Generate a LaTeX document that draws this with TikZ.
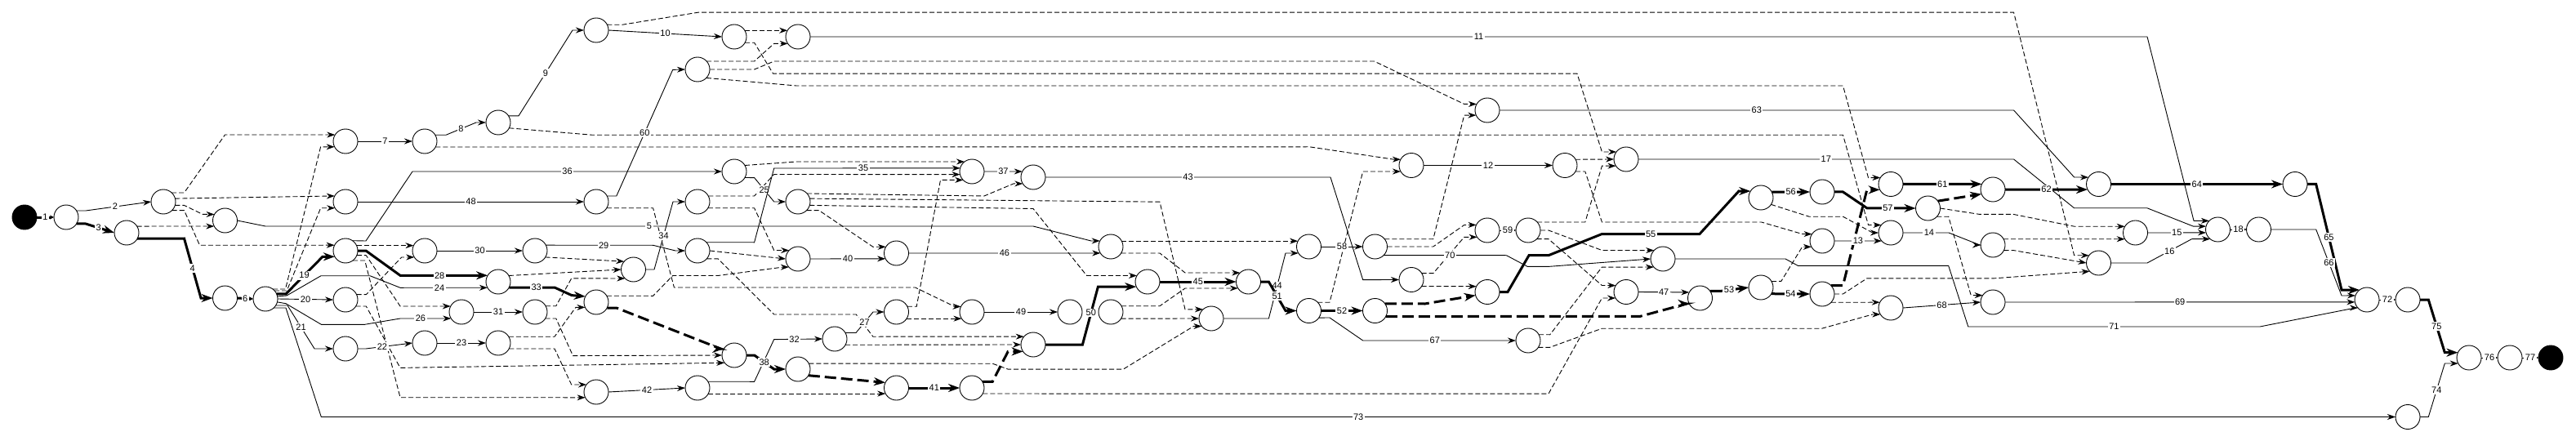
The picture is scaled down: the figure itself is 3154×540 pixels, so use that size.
\documentclass[tikz,border=0pt]{standalone}
\usepackage{fontspec}
\setmainfont{Liberation Sans}
\usetikzlibrary{arrows.meta}
\tikzset{
  ev/.style={circle,draw,fill=white,minimum size=30pt,inner sep=0pt,outer sep=0pt,line width=0.9pt},
  evs/.style={ev,fill=black},
  act/.style={draw,line width=0.9pt,-{Stealth[length=10pt,width=7pt]}},
  crit/.style={draw,line width=3pt,-{Stealth[length=14pt,width=10pt]}},
  dum/.style={act,dash pattern=on 6pt off 3pt},
  cdum/.style={crit,dash pattern=on 14pt off 6pt},
  shortarr/.style={-{Stealth[length=5pt,width=5pt]}},
  lbl/.style={fill=white,inner sep=1.5pt,font=\fontsize{11}{12}\selectfont}
}
\begin{document}
\begin{tikzpicture}[x=1pt,y=-1pt]
\useasboundingbox (0,0) rectangle (3154,540);
% events
\node[evs] (S) at (30,266) {};
\node[ev] (N1) at (81,266) {};
\node[ev] (N2) at (200,247) {};
\node[ev] (N3) at (155,285) {};
\node[ev] (N5) at (275.5,270) {};
\node[ev] (N4) at (275.5,365) {};
\node[ev] (N6) at (325,366) {};
\node[ev] (A) at (423,173) {};
\node[ev] (A7) at (520,173) {};
\node[ev] (B) at (423,247) {};
\node[ev] (C) at (423,307) {};
\node[ev] (D) at (520,307) {};
\node[ev] (E) at (423,367) {};
\node[ev] (F) at (423,427) {};
\node[ev] (G) at (520,420) {};
\node[ev] (H) at (610,150) {};
\node[ev] (I) at (730,37) {};
\node[ev] (J) at (899,45) {};
\node[ev] (K) at (977,45) {};
\node[ev] (L) at (854,85) {};
\node[ev] (M) at (730,247) {};
\node[ev] (N) at (899,210) {};
\node[ev] (O) at (854,247) {};
\node[ev] (P) at (977,247) {};
\node[ev] (Q) at (655,307) {};
\node[ev] (R) at (775.5,330) {};
\node[ev] (T) at (854,307) {};
\node[ev] (U) at (977,317) {};
\node[ev] (V) at (610,345) {};
\node[ev] (W) at (730,370) {};
\node[ev] (X) at (565,382) {};
\node[ev] (Y) at (655,382) {};
\node[ev] (Z) at (610,420) {};
\node[ev] (AA) at (899,435) {};
\node[ev] (AB) at (730,480) {};
\node[ev] (AC) at (854,475) {};
\node[ev] (AD) at (1022,415) {};
\node[ev] (AE) at (977,452) {};
\node[ev] (AF) at (1190,210) {};
\node[ev] (AG) at (1265,217) {};
\node[ev] (AH) at (1097.5,310) {};
\node[ev] (AI) at (1097.5,382) {};
\node[ev] (AJ) at (1190,382) {};
\node[ev] (AK) at (1310,382) {};
\node[ev] (AL) at (1360,382) {};
\node[ev] (AM) at (1097.5,475) {};
\node[ev] (AN) at (1190,475) {};
\node[ev] (AO) at (1265,422) {};
\node[ev] (AP) at (1405,345) {};
\node[ev] (AQ) at (1360,302) {};
\node[ev] (AR) at (1528.5,345) {};
\node[ev] (AS) at (1483,390) {};
\node[ev] (AT) at (1602.5,380.5) {};
\node[ev] (AU) at (1602.5,302) {};
\node[ev] (AV) at (1683.5,302) {};
\node[ev] (AW) at (1728,202.5) {};
\node[ev] (AX) at (1916,202.5) {};
\node[ev] (AY) at (1991,195) {};
\node[ev] (AZ) at (1821,135) {};
\node[ev] (BA) at (1871,282) {};
\node[ev] (BB) at (1821,282) {};
\node[ev] (BC) at (1728,342.5) {};
\node[ev] (BD) at (1683.5,380.5) {};
\node[ev] (BE) at (1821,357.5) {};
\node[ev] (BF) at (1871,417) {};
\node[ev] (BG) at (1991,357.5) {};
\node[ev] (BH) at (2036,317) {};
\node[ev] (BI) at (2081.5,365) {};
\node[ev] (BJ) at (2156,352) {};
\node[ev] (BK) at (2156,242) {};
\node[ev] (BL) at (2231,235) {};
\node[ev] (BM) at (2231,295) {};
\node[ev] (BN) at (2231,360) {};
\node[ev] (BO) at (2315,225.5) {};
\node[ev] (BP) at (2315,285) {};
\node[ev] (BQ) at (2360.5,255) {};
\node[ev] (BR) at (2315,377) {};
\node[ev] (BS) at (2440,232) {};
\node[ev] (BT) at (2440,300) {};
\node[ev] (BU) at (2440,370) {};
\node[ev] (BV) at (2569.5,225.5) {};
\node[ev] (BW) at (2810,225.5) {};
\node[ev] (BX) at (2614.5,285) {};
\node[ev] (BY) at (2715.5,281) {};
\node[ev] (BZ) at (2765.5,281) {};
\node[ev] (CA) at (2569.5,322) {};
\node[ev] (CB) at (2898,367) {};
\node[ev] (CC) at (2948,367) {};
\node[ev] (CD) at (2948,510.5) {};
\node[ev] (CE) at (3023,438) {};
\node[ev] (CF) at (3073,438) {};
\node[evs] (ED) at (3123,438) {};
% dummy activities
\draw[dum] (N2.47) -- (225.5,236) -- (275.5,165) -- (A.148);
\draw[dum] (N2.15) -- (B.152);
\draw[dum] (N2.-17) -- (225.5,251.4) -- (248,262.4) -- (N5.150);
\draw[dum] (N2.-45) -- (225.5,257.6) -- (244.5,300.3) -- (C.153);
\draw[dum] (N3.32) -- (N5.208);
\draw[dum] (N6.53) -- (349.5,354) -- (392.6,179.8) -- (A.207);
\draw[dum] (N6.42) -- (351.2,356) -- (392.6,254.8) -- (B.211);
\draw[dum] (A7.-28) -- (1603.3,179.8) -- (1706.6,195.2) -- (AW.151);
\draw[dum] (H.-27) -- (725.6,165.3) -- (2256.5,165.3) -- (2287.5,275.5) -- (BP.141);
\draw[dum] (I.27) -- (761.7,30.3) -- (854.7,15.2) -- (2465.6,15.2) -- (2539.6,312.7) -- (CA.142);
\draw[dum] (J.31) -- (K.149);
\draw[dum] (J.-29) -- (923.6,52.3) -- (946.6,90.2) -- (1931,90.2) -- (1961.4,186) -- (AY.143);
\draw[dum] (L.42) -- (923.6,75) -- (947.7,53.4) -- (K.214);
\draw[dum] (L.east) -- (923.6,85) -- (947.7,75) -- (1682.5,75) -- (1792.7,127.4) -- (AZ.150);
\draw[dum] (L.-44) -- (975.2,105) -- (2256.5,105) -- (2287.5,217.6) -- (BO.148);
\draw[dum] (M.-31) -- (799.6,254.8) -- (825.4,352) -- (1120.5,352) -- (1168.7,375.3) -- (AJ.154);
\draw[dum] (N.30) -- (975.2,198) -- (1175.6,198) -- (AF.127);
\draw[dum] (O.28) -- (923.6,240) -- (947.7,213.5) -- (AF.194);
\draw[dum] (O.-31) -- (923.6,254.8) -- (947.7,306.5) -- (U.136);
\draw[dum] (P.42) -- (1205,240) -- (1241,224.9) -- (AG.212);
\draw[dum] (P.15) -- (1420,247.2) -- (1451,378.8) -- (AS.132);
\draw[dum] (P.-17) -- (1265,255.5) -- (1330.6,337.5) -- (AP.150);
\draw[dum] (P.-45) -- (1002.7,257.6) -- (1068.9,302.3) -- (AH.149);
\draw[dum] (Q.-32) -- (R.139);
\draw[dum] (V.30) -- (R.west);
\draw[dum] (Y.29) -- (680.8,374.7) -- (699.7,340.9) -- (R.227);
\draw[dum] (T.east) -- (U.west);
\draw[dum] (T.-41) -- (879,316.8) -- (947.7,385) -- (1048.2,385) -- (1068.9,412.2) -- (AO.139);
\draw[dum] (W.31) -- (799.6,362.3) -- (823.7,337.5) -- (879,337.5) -- (958.5,327.1) -- (U.222);
\draw[cdum] (W.-28) -- (754.8,377) -- (882.2,427) -- (AA.148);
\draw[dum] (Y.-32) -- (680.8,390) -- (701.5,435.6) -- (AA.west);
\draw[dum] (E.-32) -- (448.3,375) -- (490,450.4) -- (AA.218);
\draw[dum] (E.25) -- (448.3,360.7) -- (491.7,315) -- (D.212);
\draw[dum] (C.25) -- (D.155);
\draw[dum] (C.-22) -- (448.3,312.7) -- (490,375) -- (X.152);
\draw[dum] (C.-53) -- (446.7,319) -- (490,486.7) -- (AB.207);
\draw[dum] (Z.31) -- (679,412.2) -- (704.9,376.4) -- (W.205);
\draw[dum] (Z.-28) -- (679,427) -- (699.7,471) -- (AB.143);
\draw[dum] (AC.-28) -- (AM.208);
\draw[cdum] (AE.-31) -- (AM.154);
\draw[dum] (AE.27) -- (1215.2,445.2) -- (1234.2,452.1) -- (1375.3,452.1) -- (1461.4,399.5) -- (AS.219);
\draw[dum] (AD.-29) -- (AO.west);
\draw[dum] (AI.27) -- (1122.2,375.3) -- (1151.5,220.4) -- (AF.224);
\draw[dum] (AI.-33) -- (AJ.213);
\draw[cdum] (AN.31) -- (1215.2,467.3) -- (1234.2,430.4) -- (AO.214);
\draw[dum] (AN.-28) -- (1896,482.1) -- (1961.4,365) -- (BG.210);
\draw[dum] (AL.29) -- (1420,374.7) -- (1451,353) -- (AR.212);
\draw[dum] (AL.-33) -- (AS.west);
\draw[dum] (AQ.27) -- (AU.153);
\draw[dum] (AQ.-32) -- (1420,310) -- (1451,334) -- (AR.133);
\draw[dum] (AT.43) -- (1628,370.2) -- (1668.7,210) -- (AW.210);
\draw[dum] (AV.38) -- (1754.8,292.7) -- (1792.7,141.2) -- (AZ.204);
\draw[dum] (AV.east) -- (1754.8,302) -- (1792.7,275.5) -- (BB.154);
\draw[dum] (BC.32) -- (1754.8,334.7) -- (1792.7,290.3) -- (BB.214);
\draw[dum] (BC.-32) -- (BE.153);
\draw[cdum] (BD.35) -- (1744.5,372) -- (BE.196);
\draw[cdum] (BD.-28) -- (2008,387.4) -- (2065,372) -- (BI.208);
\draw[dum] (BA.42) -- (1940.8,272) -- (1961.4,203.2) -- (AY.213);
\draw[dum] (BA.east) -- (1896,282) -- (1961.4,306.5) -- (BH.136);
\draw[dum] (BA.-45) -- (1896,292.7) -- (1961.4,349.5) -- (BG.148);
\draw[dum] (AX.29) -- (AY.west);
\draw[dum] (AX.-30) -- (1940.8,210) -- (1961.4,272) -- (2156.7,272) -- (2206.6,286.5) -- (BM.146);
\draw[dum] (BF.29) -- (1897.7,409.8) -- (1961.4,327.1) -- (BH.222);
\draw[dum] (BF.-34) -- (1897.7,425.3) -- (1961.4,402.2) -- (2230.7,402.2) -- (2292.7,385) -- (BR.212);
\draw[dum] (BJ.30) -- (2180.8,344.4) -- (2206.6,302.3) -- (BM.209);
\draw[dum] (BK.-34) -- (2215,265.2) -- (2256.5,265.2) -- (2292.7,285) -- (BP.west);
\draw[cdum] (BN.44) -- (2256.5,349.5) -- (2285.8,232.4) -- (BO.207);
\draw[dum] (BN.east) -- (2256.5,360) -- (2285.8,340.9) -- (2440.8,340.9) -- (CA.223);
\draw[dum] (BN.-43) -- (BR.153);
\draw[cdum] (BQ.36) -- (BS.202);
\draw[dum] (BQ.east) -- (2423.6,262.4) -- (2465,262.4) -- (2539.6,277.2) -- (BX.149);
\draw[dum] (BQ.-43) -- (2385.7,265.2) -- (2413.2,361.6) -- (BU.146);
\draw[dum] (BT.29) -- (BX.211);
\draw[dum] (BT.-26) -- (2465,306.5) -- (CA.west);
% activities
\draw[crit,shortarr] (S.east) -- node[lbl]{1} (N1.west);
\draw[act] (N1.32) -- (105,258) -- node[lbl,pos=0.45]{2} (N2.west);
\draw[crit] (N1.-32) -- (105,274) -- node[lbl,pos=0.45]{3} (N3.west);
\draw[crit] (N3.-28) -- (225.5,292) -- node[lbl]{4} (246,365) -- (N4.west);
\draw[act] (N5.east) -- (325,277) -- node[lbl]{5} (1265,277) -- (1336,295) -- (AQ.152);
\draw[crit,shortarr] (N4.east) -- node[lbl]{6} (N6.west);
\draw[act] (A.east) -- node[lbl]{7} (A7.west);
\draw[act] (A7.31) -- (546,165.3) -- node[lbl]{8} (583,150) -- (H.west);
\draw[act] (H.33) -- (635,141.9) -- node[lbl]{9} (701,37) -- (I.west);
\draw[act] (I.east) -- node[lbl]{10} (J.west);
\draw[act] (K.east) -- node[lbl]{11} (2629,45) -- (2686,270.3) -- (BY.135);
\draw[act] (AW.east) -- node[lbl]{12} (AX.west);
\draw[act] (BM.east) -- node[lbl]{13} (BP.222);
\draw[act] (BP.east) -- node[lbl,pos=0.57]{14} (2386,285) -- (2424,300) -- (BT.west);
\draw[act] (BX.east) -- node[lbl]{15} (BY.195);
\draw[act] (CA.east) -- (2629,322) -- node[lbl]{16} (2683.5,292.7) -- (BY.231);
\draw[act] (AY.east) -- node[lbl]{17} (2465.6,195) -- (2539.6,254.8) -- (2629,254.8) -- (2685.6,277.2) -- (BY.165);
\draw[act,shortarr] (BY.east) -- node[lbl]{18} (BZ.west);
\draw[crit] (N6.24) -- (350,360) -- node[lbl]{19} (395,314.3) -- (C.209);
\draw[act] (N6.east) -- node[lbl]{20} (E.west);
\draw[act] (N6.-32) -- (352,374) -- node[lbl]{21} (385,427) -- (F.west);
\draw[act] (F.east) -- (448,427) -- node[lbl,pos=0.35]{22} (G.west);
\draw[act] (G.east) -- node[lbl]{23} (Z.west);
\draw[act] (N6.12) -- (351,362) -- (393,337.7) -- (453,337.7) -- (490,352.3) -- node[lbl,pos=0.45]{24} (V.209);
\draw[act] (N.-30) -- (923.6,217.6) -- node[lbl]{25} (947.7,247) -- (P.west);
\draw[act] (N6.-15) -- (350,371.7) -- (393.3,397.3) -- (446.7,397.3) -- (490,390) -- node[lbl,pos=0.4]{26} (X.212);
\draw[act] (AD.30) -- (1048,407.5) -- node[lbl]{27} (1069,382) -- (AI.west);
\draw[crit] (C.east) -- (448,307) -- (490,337.3) -- node[lbl,pos=0.45]{28} (V.149);
\draw[act] (Q.27) -- node[lbl,pos=0.54]{29} (799.6,300.3) -- (827,307) -- (T.west);
\draw[act] (D.east) -- node[lbl]{30} (Q.west);
\draw[act] (X.east) -- node[lbl]{31} (Y.west);
\draw[act] (AC.31) -- (923.6,467.3) -- (947.7,415.6) -- node[lbl,pos=0.42]{32} (AD.west);
\draw[crit] (V.-28) -- node[lbl,pos=0.6]{33} (679,352) -- (700,361.6) -- (W.152);
\draw[act] (R.east) -- (801,330) -- node[lbl]{34} (824,247) -- (O.west);
\draw[act] (T.43) -- (923.6,296.8) -- (947.7,206) -- node[lbl,pos=0.48]{35} (AF.164);
\draw[act] (C.55) -- (448,295) -- (505,210) -- node[lbl]{36} (N.west);
\draw[act] (AF.east) -- node[lbl]{37} (AG.152);
\draw[crit] (AA.east) -- (923.6,435) -- node[lbl]{38} (947.7,452) -- (AE.west);
\draw[act] (U.east) -- node[lbl]{40} (AH.207);
\draw[crit] (AM.east) -- node[lbl]{41} (AN.west);
\draw[act] (AB.east) -- node[lbl]{42} (AC.west);
\draw[act] (AG.east) -- node[lbl]{43} (1629,217) -- (1668.7,342.6) -- (BC.west);
\draw[act] (AS.east) -- (1553.4,390) -- node[lbl]{44} (1574,310) -- (AU.212);
\draw[crit] (AP.east) -- node[lbl]{45} (AR.west);
\draw[act] (AH.east) -- node[lbl]{46} (AQ.212);
\draw[act] (BG.east) -- node[lbl]{47} (BI.152);
\draw[act] (B.east) -- node[lbl]{48} (M.west);
\draw[act] (AJ.east) -- node[lbl]{49} (AK.west);
\draw[crit] (AO.east) -- (1325.4,422) -- node[lbl,pos=0.55]{50} (1344.4,351.2) -- (AP.204);
\draw[crit] (AR.east) -- (1553.4,345) -- node[lbl]{51} (1574,380.5) -- (AT.west);
\draw[crit] (AT.east) -- node[lbl]{52} (BD.west);
\draw[crit] (BI.35) -- (2106.7,356.4) -- node[lbl,pos=0.3]{53} (BJ.west);
\draw[crit] (BJ.-31) -- node[lbl]{54} (BN.west);
\draw[crit] (BE.east) -- (1846,357.5) -- (1872,312.7) -- (1896,312.7) -- (1961.4,286.5) -- node[lbl]{55} (2081,286.5) -- (2129,234) -- (BK.148);
\draw[crit] (BK.27) -- node[lbl]{56} (BL.west);
\draw[crit] (BL.east) -- (2256.5,235) -- (2285.8,254.8) -- node[lbl,pos=0.43]{57} (BQ.west);
\draw[act] (AU.east) -- node[lbl]{58} (AV.west);
\draw[act,shortarr] (BB.east) -- node[lbl]{59} (BA.west);
\draw[act] (M.28) -- (754.8,240) -- node[lbl]{60} (823.7,85.4) -- (L.west);
\draw[crit] (BO.east) -- node[lbl]{61} (BS.154);
\draw[crit] (BS.east) -- node[lbl]{62} (BV.206);
\draw[act] (AZ.east) -- node[lbl]{63} (2465.6,135) -- (2539.6,217) -- (BV.146);
\draw[crit] (BV.east) -- node[lbl]{64} (BW.west);
\draw[crit] (BW.east) -- (2835.7,225.5) -- node[lbl]{65} (2867,355) -- (CB.127);
\draw[act] (BZ.east) -- (2835.7,281) -- node[lbl]{66} (2867,362) -- (CB.160);
\draw[act] (AT.-35) -- (1628,389) -- (1668.7,417) -- node[lbl,pos=0.47]{67} (BF.west);
\draw[act] (BR.east) -- node[lbl]{68} (BU.west);
\draw[act] (BU.east) -- node[lbl]{69} (CB.191);
\draw[act] (AV.-45) -- node[lbl,pos=0.54]{70} (1844.4,312.7) -- (1870.2,326.4) -- (1896,326.4) -- (BH.west);
\draw[act] (BH.east) -- (2186,317) -- (2201.4,325.4) -- (2385.7,325.4) -- (2409.8,400) -- node[lbl]{71} (2767,400) -- (2883.6,377) -- (CB.222);
\draw[act,shortarr] (CB.east) -- node[lbl]{72} (CC.west);
\draw[act] (N6.-47) -- (350,377) -- (393.3,510.5) -- node[lbl]{73} (CD.west);
\draw[act] (CD.east) -- (2973.3,510.5) -- node[lbl]{74} (2993.3,445) -- (CE.208);
\draw[crit] (CC.east) -- (2973.3,367) -- node[lbl]{75} (2993.3,431.7) -- (CE.155);
\draw[act,shortarr] (CE.east) -- node[lbl]{76} (CF.west);
\draw[act,shortarr] (CF.east) -- node[lbl]{77} (ED.west);
\end{tikzpicture}
\end{document}
